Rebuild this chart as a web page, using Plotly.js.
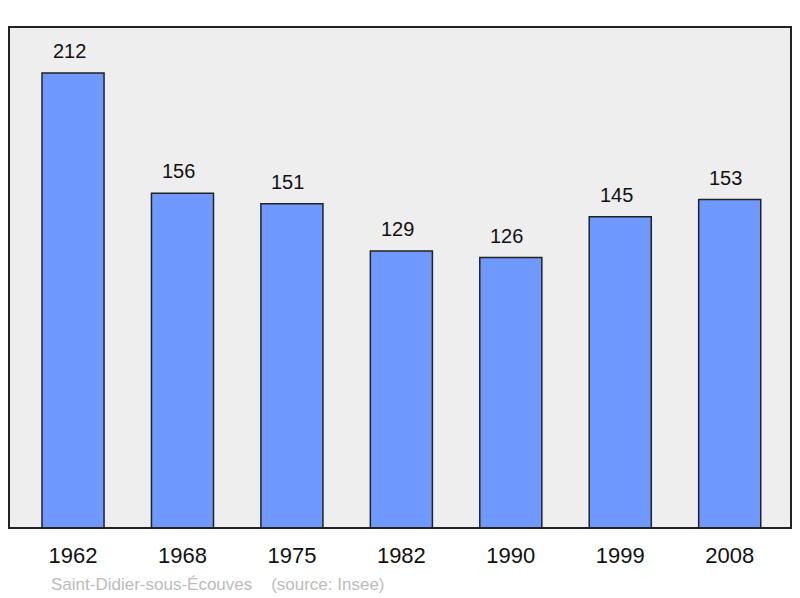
<!DOCTYPE html>
<html><head><meta charset="utf-8">
<script src="https://cdn.plot.ly/plotly-3.0.1.min.js"></script>
<style>body{margin:0;padding:0;background:#fff}#chart{width:800px;height:598px}</style>
</head><body><div id="chart"></div>
<script>
var years = ['1962','1968','1975','1982','1990','1999','2008'];
var population = [212,156,151,129,126,145,153];
var caption = 'Saint-Didier-sous-Écouves\u00a0\u00a0\u00a0\u00a0(source: Insee)';

var xs = years.map(function(_, i){ return i; });
var trace = {
  type: 'bar', x: xs, y: population, width: 0.567,
  marker: {color: '#7099FF', line: {color: '#222222', width: 1.5}},
  hoverinfo: 'none'
};
var annotations = xs.map(function(x, i){
  return {x: x, y: population[i], xref: 'x', yref: 'y', text: String(population[i]),
    showarrow: false, yanchor: 'bottom', yshift: 9, xshift: -4,
    font: {family: 'Liberation Sans, Arial, sans-serif', size: 20, color: '#111'}};
});
annotations.push({xref: 'paper', yref: 'paper', x: 0.051, y: -0.112, xanchor: 'left', yanchor: 'middle',
  text: caption, showarrow: false,
  font: {family: 'Liberation Sans, Arial, sans-serif', size: 17, color: '#BBBBBB'}});

var layout = {
  width: 800, height: 598,
  margin: {l: 9, r: 9, t: 27, b: 70, pad: 0},
  paper_bgcolor: '#FFFFFF', plot_bgcolor: '#EEEEEE',
  showlegend: false,
  xaxis: {range: [-0.585, 6.56], tickvals: xs, ticktext: years, showgrid: false, zeroline: false,
    showline: false, ticks: '', ticklabelstandoff: 12,
    tickfont: {family: 'Liberation Sans, Arial, sans-serif', size: 22, color: '#111'}},
  yaxis: {range: [0, 233.4], showgrid: false, zeroline: false, showticklabels: false, showline: false, ticks: ''},
  shapes: [{type: 'rect', xref: 'paper', yref: 'paper', x0: 0, x1: 1, y0: 0, y1: 1,
    line: {color: '#222222', width: 2}}],
  annotations: annotations
};
Plotly.newPlot('chart', [trace], layout, {staticPlot: true});
</script></body></html>
